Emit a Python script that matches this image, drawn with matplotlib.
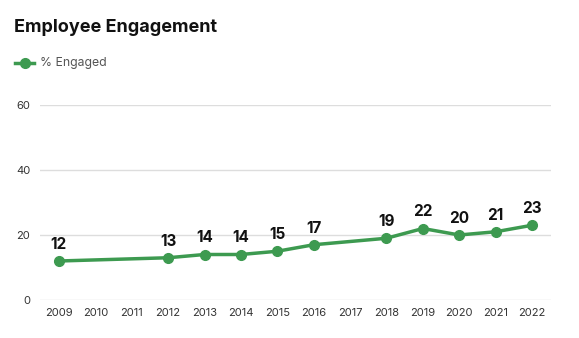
import numpy as np
import matplotlib.pyplot as plt

plt.rcParams['font.family'] = ['Inter', 'DejaVu Sans']

# 数据
years = ['2009', '2010', '2011', '2012', '2013', '2014', '2015',
         '2016', '2017', '2018', '2019', '2020', '2021', '2022']
data_years = ['2009', '2012', '2013', '2014', '2015', '2016',
              '2018', '2019', '2020', '2021', '2022']
engaged = [12, 13, 14, 14, 15, 17, 19, 22, 20, 21, 23]

green = '#3d9a50'

fig = plt.figure(figsize=(5.79, 3.38), dpi=100)
ax = fig.add_axes([40 / 579, 38 / 338, 511 / 579, 195 / 338])

x = [years.index(y) for y in data_years]
ax.plot(x, engaged, color=green, lw=2.5, marker='o', ms=7, zorder=3)
for xi, v in zip(x, engaged):
    ax.annotate(str(v), (xi, v), xytext=(0, 6.5), textcoords='offset points',
                ha='center', va='bottom', fontsize=11, fontweight='bold',
                color='#111111')

ax.set_xlim(-0.52, len(years) - 1 + 0.52)
ax.set_ylim(0, 60)
ax.set_xticks(range(len(years)))
ax.set_xticklabels(years)
ax.set_yticks([0, 20, 40, 60])
ax.tick_params(length=0, labelsize=8, labelcolor='#333333')
ax.tick_params(axis='x', pad=6)
ax.tick_params(axis='y', pad=7)
ax.grid(axis='y', color='#dddddd', lw=1)
ax.set_axisbelow(True)
for s in ax.spines.values():
    s.set_visible(False)

fig.text(14 / 579, 1 - 27 / 338, 'Employee Engagement', fontsize=13,
         fontweight='bold', color='#111111', va='center')
# 图例
ly = 1 - 63 / 338
fig.add_artist(plt.Line2D([15 / 579, 34 / 579], [ly, ly], color=green, lw=2.5,
                          transform=fig.transFigure))
fig.add_artist(plt.Line2D([24.5 / 579], [ly], color=green, marker='o', ms=7,
                          transform=fig.transFigure))
fig.text(40 / 579, ly, '% Engaged', fontsize=8.8, color='#555555',
         va='center')

plt.savefig('out.png')
